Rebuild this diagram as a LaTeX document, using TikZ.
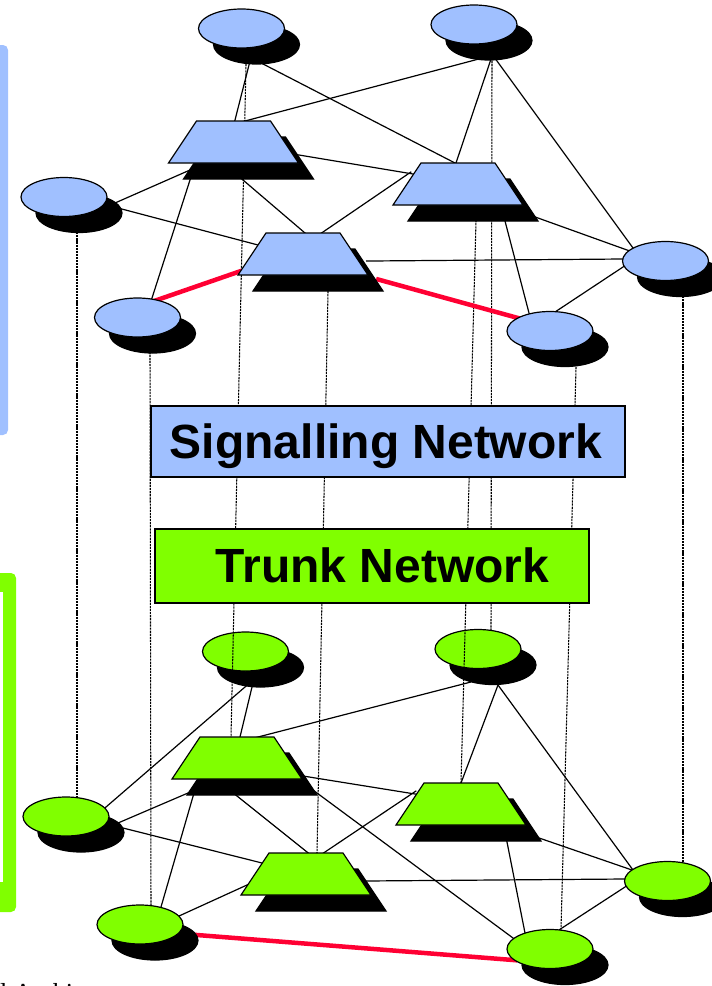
\documentclass[tikz,border=0pt]{standalone}
\usepackage{fontspec}
\setmainfont{Liberation Serif}
\newfontfamily\arialfont{Liberation Sans}
\usetikzlibrary{shapes.geometric,shadows,calc}
\definecolor{bluefill}{RGB}{160,192,255}
\definecolor{greenfill}{RGB}{128,255,0}
\definecolor{redlink}{RGB}{255,0,51}
\pgfdeclarelayer{glines}
\pgfdeclarelayer{gnodes}
\pgfdeclarelayer{dots}
\pgfdeclarelayer{blines}
\pgfsetlayers{glines,gnodes,dots,blines,main}
\newcommand{\mytrapz}[4]{%
  \coordinate (#1) at (#2,#3);
  \filldraw[fill=black, draw=black, line width=1.2pt] ($(#1)+(-50,37)$) -- ($(#1)+(-22,-5)$) -- ($(#1)+(52,-5)$) -- ($(#1)+(80,37)$) -- cycle;
  \filldraw[fill=#4, draw=black, line width=1.2pt, line join=miter] ($(#1)+(-65,21)$) -- ($(#1)+(-37,-21)$) -- ($(#1)+(37,-21)$) -- ($(#1)+(65,21)$) -- cycle;}
\begin{document}
\begin{tikzpicture}[x=1pt,y=-1pt,
  shad/.style={drop shadow={shadow xshift=15pt, shadow yshift=-16pt, fill=black, draw=black, opacity=1}},
  ell/.style={ellipse, draw=black, line width=1.2pt, minimum width=86pt, minimum height=39pt, inner sep=0pt, shad},
  bnode/.style={fill=bluefill},
  gnode/.style={fill=greenfill},
  link/.style={draw=black, line width=1.2pt, shorten <=-4pt, shorten >=-4pt},
  redl/.style={draw=redlink, line width=4.5pt, shorten <=-4pt, shorten >=-4pt},
  dotline/.style={draw=black, line width=1.05pt, dash pattern=on 2.2pt off 0.9pt, shorten <=-4pt},
  boxlabel/.style={font=\arialfont\bfseries\fontsize{48}{48}\selectfont, anchor=base, inner sep=0pt}
]
\useasboundingbox (0,0) rectangle (712,986);

% side bars
\fill[bluefill, rounded corners=5pt] (-20,45) rectangle (8,435);
\fill[greenfill, rounded corners=5pt] (-20,573) rectangle (16,912);
\fill[white] (-20,592) rectangle (2.5,882);

% green nodes
\begin{pgfonlayer}{gnodes}
\node[ell, gnode] (gT1) at (245.5,651.5) {};
\node[ell, gnode] (gT2) at (478,649) {};
\node[ell, gnode] (gL) at (66,816.5) {};
\node[ell, gnode] (gBL) at (140,924.5) {};
\node[ell, gnode] (gR) at (667.5,881) {};
\node[ell, gnode] (gBR) at (550,949) {};
\mytrapz{gA}{237}{758}{greenfill}
\mytrapz{gB}{461}{804}{greenfill}
\mytrapz{gC}{306}{874}{greenfill}
\end{pgfonlayer}

% blue nodes
\node[ell, bnode] (T1) at (241.5,28.5) {};
\node[ell, bnode] (T2) at (474,24.5) {};
\node[ell, bnode] (L) at (64,197) {};
\node[ell, bnode] (BL) at (137.5,317.5) {};
\node[ell, bnode] (R) at (665.5,261) {};
\node[ell, bnode] (BR) at (550,331) {};
\mytrapz{A}{233.5}{142}{bluefill}
\mytrapz{B}{458}{184}{bluefill}
\mytrapz{C}{303}{254}{bluefill}

% green links
\begin{pgfonlayer}{glines}
\draw[link] ($(gT1)+(-0.5,35.5)$) -- ($(gL)+(40,-9.5)$);
\draw[link] ($(gT1)+(6.5,35.5)$) -- ($(gA)+(3,-21)$);
\draw[link] ($(gA)+(21,-21)$) -- ($(gT2)+(-11,34)$);
\draw[link] ($(gA)+(66,18)$) -- ($(gB)+(-46,-10)$);
\draw[link] ($(gL)+(52,6.5)$) -- ($(gA)+(-49,35)$);
\draw[link] ($(gL)+(57,11.5)$) -- ($(gC)+(-44,-11)$);
\draw[link] ($(gA)+(-43,35)$) -- ($(gBL)+(21,-17.5)$);
\draw[link] ($(gA)+(0,38)$) -- ($(gC)+(1,-22)$);
\draw[link] ($(gC)+(19,-22)$) -- ($(gB)+(-48,-11)$);
\draw[link] ($(gBL)+(39,-8.5)$) -- ($(gC)+(-59,11)$);
\draw[redl] ($(gBL)+(57,10.5)$) -- ($(gBR)+(-37,11)$);
\draw[link] ($(gA)+(80,35)$) -- ($(gBR)+(-37,-11)$);
\draw[link] ($(gT2)+(20,36)$) -- ($(gB)+(0,-21)$);
\draw[link] ($(gT2)+(20,36)$) -- ($(gR)+(-34.5,-11)$);
\draw[link] ($(gB)+(81,35)$) -- ($(gR)+(-35.5,-11)$);
\draw[link] ($(gC)+(59,7)$) -- ($(gR)+(-42.5,-2)$);
\draw[link] ($(gB)+(46,38)$) -- ($(gBR)+(-25,-16)$);
\draw[link] ($(gR)+(-42.5,6)$) -- ($(gBR)+(12,-21)$);
\end{pgfonlayer}

% vertical dotted links
\begin{pgfonlayer}{dots}
\draw[dotline] ($(L)+(13,36)$) -- ($(gL)+(11,-19.5)$);
\draw[dotline] ($(BL)+(12.5,35)$) -- ($(gBL)+(11,-19.5)$);
\draw[dotline] ($(T1)+(4.5,36.5)$) -- ($(gA)+(-6,-21)$);
\draw[dotline] ($(C)+(25,38)$) -- ($(gC)+(11,-21)$);
\draw[dotline] ($(T2)+(18,37.5)$) -- ($(gT2)+(13,-19)$);
\draw[dotline] ($(B)+(18,37)$) -- ($(gB)+(0,-21)$);
\draw[dotline] ($(BR)+(26,37)$) -- ($(gBR)+(11,-19.5)$);
\draw[dotline] ($(R)+(17.5,36)$) -- ($(gR)+(15.5,-19)$);
\end{pgfonlayer}

% blue links
\begin{pgfonlayer}{blines}
\draw[link] ($(T1)+(7.5,36.5)$) -- ($(A)+(1.5,-22)$);
\draw[link] ($(A)+(11.5,-21)$) -- ($(T2)+(1,35.5)$);
\draw[link] ($(T1)+(23.5,36.5)$) -- ($(B)+(-3,-21)$);
\draw[link] ($(A)+(65.5,13)$) -- ($(B)+(-45,-10)$);
\draw[link] ($(L)+(51,6)$) -- ($(A)+(-43.5,28)$);
\draw[link] ($(L)+(54,11)$) -- ($(C)+(-45,-9)$);
\draw[link] ($(A)+(-43.5,38)$) -- ($(BL)+(14.5,-19.5)$);
\draw[link] ($(A)+(9.5,38)$) -- ($(C)+(2,-21)$);
\draw[link] ($(C)+(20,-22)$) -- ($(B)+(-50,-10)$);
\draw[redl] ($(BL)+(19.5,-17.5)$) -- ($(C)+(-65,18)$);
\draw[redl] ($(C)+(77,26)$) -- ($(BR)+(-32,-13)$);
\draw[link] ($(T2)+(16,37.5)$) -- ($(B)+(-2,-21)$);
\draw[link] ($(T2)+(23,36.5)$) -- ($(R)+(-32.5,-13)$);
\draw[link] ($(B)+(80,34)$) -- ($(R)+(-38.5,-11)$);
\draw[link] ($(C)+(67,7)$) -- ($(R)+(-42.5,-2)$);
\draw[link] ($(B)+(47,37)$) -- ($(BR)+(-21,-18)$);
\draw[link] ($(R)+(-42.5,6)$) -- ($(BR)+(5,-19)$);
\end{pgfonlayer}

% labels
\node[draw=black, line width=1.2pt, fill=bluefill, minimum width=474pt, minimum height=71pt, inner sep=0pt] (sigbox) at (388,441.5) {};
\node[boxlabel] (sigtext) at (386,458) {Signalling Network};
\node[draw=black, line width=1.2pt, fill=greenfill, minimum width=434pt, minimum height=74pt, inner sep=0pt] (trunkbox) at (372,566) {};
\node[boxlabel] (trunktext) at (382.5,582) {Trunk Network};

\node[anchor=base west, inner sep=0pt, font=\fontsize{26}{26}\selectfont] (caption) at (0,1001.5) {l Architecture};
\end{tikzpicture}
\end{document}
